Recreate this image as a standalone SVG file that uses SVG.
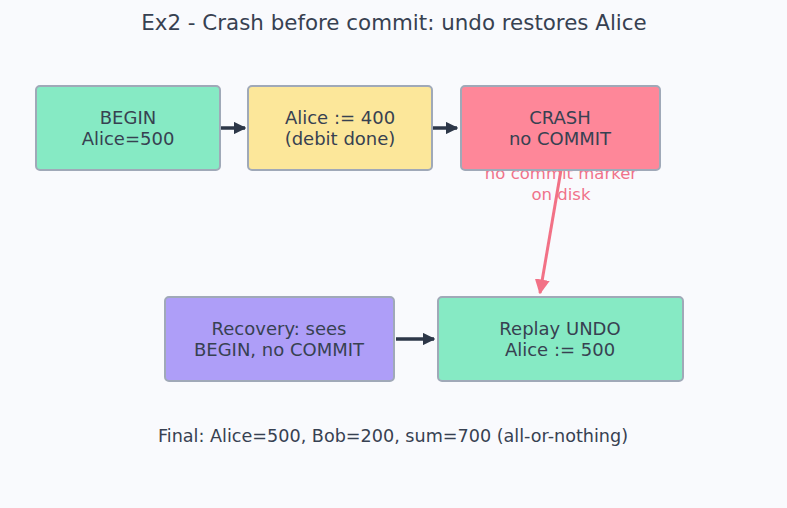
<svg xmlns="http://www.w3.org/2000/svg" width="787" height="508" viewBox="0 0 787 508">
<defs>
<style>
.node rect{stroke:#a0a9b8;stroke-width:2}
.node text{font-family:"DejaVu Sans",sans-serif;font-size:18px;fill:#374151;text-anchor:middle}
.title{font-family:"DejaVu Sans",sans-serif;font-size:21.4px;fill:#374151;text-anchor:middle}
.foot{font-family:"DejaVu Sans",sans-serif;font-size:17.6px;fill:#374151;text-anchor:middle}
.elabel{font-family:"DejaVu Sans",sans-serif;font-size:16.5px;fill:#f0728a;text-anchor:middle}
.e{fill:none;stroke:#2d3748;stroke-width:3.5}
.er{fill:none;stroke:#f27186;stroke-width:3}
</style>
<marker id="ad" viewBox="0 0 10 10" refX="9" refY="5" markerWidth="3.6" markerHeight="3.6" orient="auto" markerUnits="strokeWidth"><path d="M0,0 L10,5 L0,10 z" fill="#2d3748"/></marker>
<marker id="ar" viewBox="0 0 10 10" refX="9" refY="5" markerWidth="5" markerHeight="5" orient="auto" markerUnits="strokeWidth"><path d="M0,0 L10,5 L0,10 z" fill="#f27186"/></marker>
</defs>
<rect width="787" height="508" fill="#f9fafd"/>
<text class="title" x="394" y="30">Ex2 - Crash before commit: undo restores Alice</text>
<text class="elabel" x="561" y="179">no commit marker</text>
<text class="elabel" x="561" y="200">on disk</text>
<g id="connectors">
<line class="e" x1="221" y1="128" x2="245" y2="128" marker-end="url(#ad)"/>
<line class="e" x1="433" y1="128" x2="457" y2="128" marker-end="url(#ad)"/>
<line class="e" x1="396" y1="339" x2="434" y2="339" marker-end="url(#ad)"/>
<line class="er" x1="561" y1="170" x2="540" y2="293" marker-end="url(#ar)"/>
</g>
<g id="n1" class="node"><rect x="36" y="86" width="184" height="84" rx="4" fill="#86eac4"/><text x="128" y="124">BEGIN</text><text x="128" y="145">Alice=500</text></g>
<g id="n2" class="node"><rect x="248" y="86" width="184" height="84" rx="4" fill="#fce79a"/><text x="340" y="124">Alice := 400</text><text x="340" y="145">(debit done)</text></g>
<g id="n3" class="node"><rect x="461" y="86" width="199" height="84" rx="4" fill="#fe8799"/><text x="560" y="124">CRASH</text><text x="560" y="145">no COMMIT</text></g>
<g id="n4" class="node"><rect x="165" y="297" width="229" height="84" rx="4" fill="#ae9ef8"/><text x="279" y="335">Recovery: sees</text><text x="279" y="356">BEGIN, no COMMIT</text></g>
<g id="n5" class="node"><rect x="438" y="297" width="245" height="84" rx="4" fill="#86eac4"/><text x="560" y="335">Replay UNDO</text><text x="560" y="356">Alice := 500</text></g>
<text class="foot" x="393" y="442">Final: Alice=500, Bob=200, sum=700 (all-or-nothing)</text>
</svg>
